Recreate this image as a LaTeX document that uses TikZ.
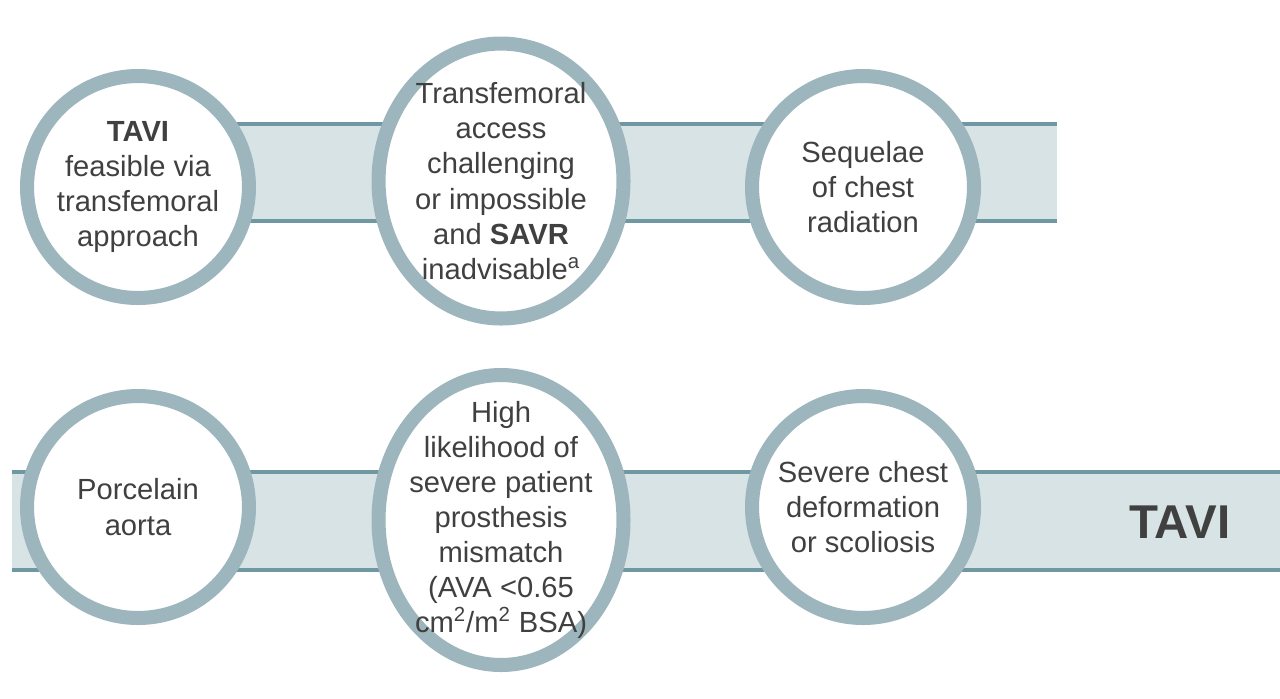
\documentclass[tikz,border=0pt]{standalone}
\usepackage{fontspec}
\setmainfont{Liberation Sans}
\usetikzlibrary{positioning,shadows,shapes.geometric}
\definecolor{ringc}{HTML}{9DB6BE}
\definecolor{bandc}{HTML}{D8E3E6}
\definecolor{edgec}{HTML}{6F98A3}
\definecolor{textc}{HTML}{404040}
\begin{document}
\begin{tikzpicture}
            [x=0.02cm, y=-0.02cm, font=\fontsize{16.6}{20}\selectfont,
            ring/.style={circle, minimum size=4.44cm, inner sep=0pt, fill=white,
            draw=ringc, line width=8pt, drop shadow={opacity=0.25}},
            tallring/.style={ring, ellipse, minimum width=4.9cm, minimum height=5.8cm},
            txt/.style={text=textc, align=center, inner sep=0pt},
            band/.style={fill=bandc},
            bandedge/.style={draw=edgec, line width=2.5pt}]
            \useasboundingbox (0,0) rectangle (1280,698);
            % top band
            \fill[band] (200,124) rectangle (1057,221);
            \draw[bandedge] (200,124) -- (1057,124) (200,221) -- (1057,221);
            % bottom band
            \fill[band] (12,472) rectangle (1280,570);
            \draw[bandedge] (12,472) -- (1280,472) (12,570) -- (1280,570);
            \node[txt, font=\fontsize{27}{30}\selectfont\bfseries] (tavi) at (1180,522) {TAVI};
            % top row
            \node[ring] (feasible) at (138,187) {};
            \node[tallring, minimum height=5.5cm] (access) at (501,181) {};
            \node[ring] (radiation) at (863,187) {};
            \node[txt] at (feasible) {\textbf{TAVI}\\feasible via\\transfemoral\\approach};
            \node[txt] at (access) {Transfemoral\\access\\challenging\\or impossible\\and \textbf{SAVR}\\inadvisable\textsuperscript{a}};
            \node[txt] at (radiation) {Sequelae\\of chest\\radiation};
            % bottom row
            \node[ring] (porcelain) at (138,507) {};
            \node[tallring] (mismatch) at (501,520) {};
            \node[ring] (deform) at (863,507) {};
            \node[txt] at (porcelain) {Porcelain\\aorta};
            \node[txt] at (mismatch) {High\\likelihood of\\severe patient\\prosthesis\\mismatch\\(AVA <0.65\\cm\textsuperscript{2}/m\textsuperscript{2} BSA)};
            \node[txt] at (deform) {Severe chest\\deformation\\or scoliosis};
\end{tikzpicture}
\end{document}
